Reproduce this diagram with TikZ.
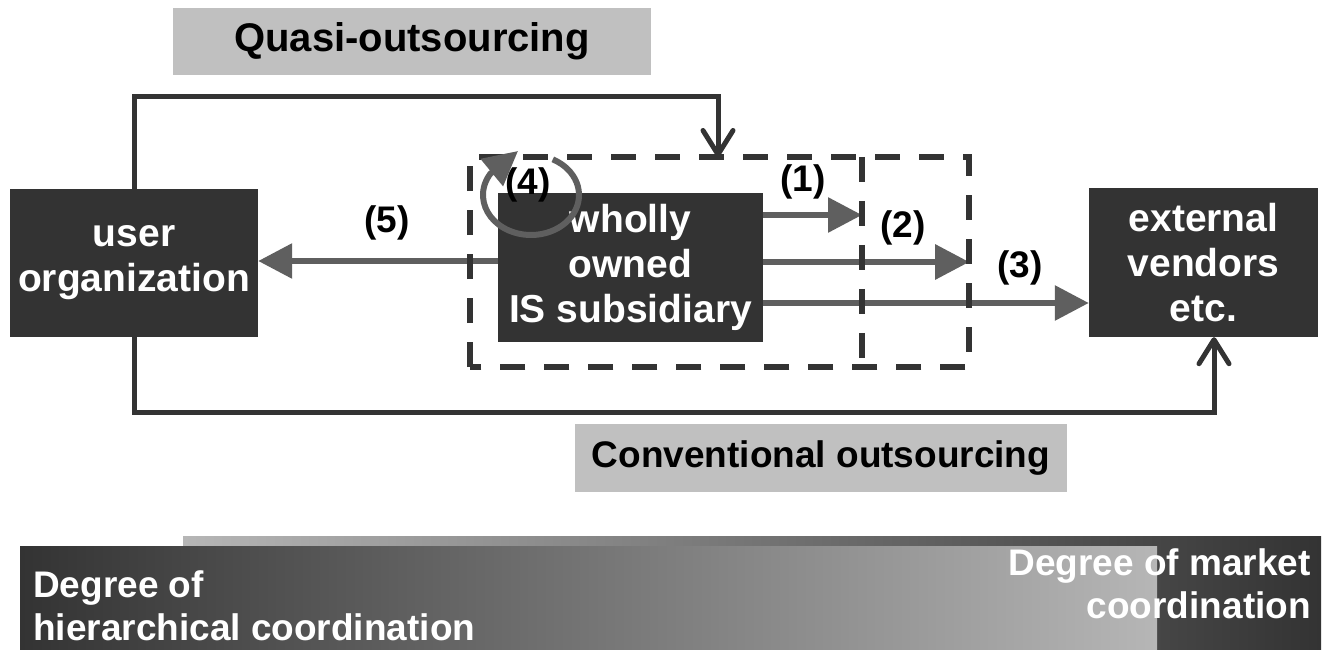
\documentclass[tikz,border=0pt]{standalone}
\usepackage{fontspec}
\setmainfont{Liberation Sans}
\definecolor{BoxColor}{RGB}{51,51,51}
\definecolor{FlowColor}{RGB}{95,95,95}
\definecolor{TagColor}{RGB}{192,192,192}
\definecolor{BarLight}{RGB}{182,182,182}
\definecolor{BarMid}{RGB}{156,156,156}
\usetikzlibrary{arrows.meta}

\begin{document}
\begin{tikzpicture}[x=1pt, y=-1pt,
    darkbox/.style={fill=BoxColor, text=white, inner sep=0pt, align=center, font=\fontsize{39}{45}\selectfont\bfseries},
    tagbox/.style={fill=TagColor, inner sep=0pt},
    numlabel/.style={inner sep=0pt, font=\fontsize{37}{44}\selectfont\bfseries},
    bartext/.style={inner sep=0pt, text=white, font=\fontsize{37}{43}\selectfont\bfseries},
    outline/.style={draw=BoxColor, line width=5pt, -{Straight Barb[round, length=24pt, width=30pt]}},
    flow/.style={draw=FlowColor, line width=6pt, -{Triangle[length=34pt, width=34pt]}},
    dashframe/.style={draw=BoxColor, line width=6pt, dash pattern=on 25pt off 19pt}]
  \useasboundingbox (0,0) rectangle (1327,650);

  % coordination bars
  \shade[left color=BarLight, middle color=BarMid, right color=BoxColor] (183,536) rectangle (1321,650);
  \shade[left color=BoxColor, middle color=BarMid, right color=BarLight] (20,546) rectangle (1157,650);
  \node[bartext, anchor=base west, align=left] (hier) at (33,640) {Degree of\\hierarchical coordination};
  \node[bartext, anchor=base east, align=right] (market) at (1311,618) {Degree of market\\coordination};

  % tags
  \node[tagbox, minimum width=478pt, minimum height=67pt, font=\fontsize{40}{45}\selectfont\bfseries] (quasi) at (412,41.5) {Quasi-outsourcing};
  \node[tagbox, minimum width=492pt, minimum height=68pt, font=\fontsize{37}{45}\selectfont\bfseries] (conv) at (821,458) {Conventional outsourcing};

  % boxes
  \node[darkbox, minimum width=248pt, minimum height=148pt] (user) at (134,263) {user\\organization};
  \node[darkbox, minimum width=265pt, minimum height=149pt] (sub) at (630.5,267.5) {wholly\\owned\\IS subsidiary};
  \node[darkbox, minimum width=229pt, minimum height=149pt] (vendor) at (1203.5,262.5) {external\\vendors\\etc.};

  % outsourcing lines
  \coordinate (quasiend) at (718,157);
  \draw[outline] (user.north) -- ++(0,-92) -| (quasiend);
  \draw[outline] (user.south) -- ++(0,75) -| ([xshift=10.5pt]vendor.south);

  % flows
  \coordinate (split) at (862,262);
  \node[minimum width=499pt, minimum height=210pt, inner sep=0pt] (group) at (719.5,262) {};
  \draw[flow] (sub.west |- 0,261) -- (user.east |- 0,261);
  \draw[flow] (sub.east |- 0,215) -- (split |- 0,215);
  \draw[flow] (sub.east |- 0,262) -- (group.east |- 0,262);
  \draw[flow] (sub.east |- 0,303) -- (vendor.west |- 0,303);

  % dashed frame
  \draw[dashframe] (group.south west) rectangle (group.north east);
  \draw[dashframe] (split |- group.north) -- (split |- group.south);

  % loop (4)
  \coordinate (loopc) at (531,195);
  \coordinate (looptip) at (518,151);
  \draw[flow] (loopc) ++(-63:48 and 40)
    arc[start angle=-63, end angle=212, x radius=48, y radius=40] -- (looptip);

  \node[numlabel] (n1) at (803,182) {(1)};
  \node[numlabel] (n2) at (903,228) {(2)};
  \node[numlabel] (n3) at (1020,268) {(3)};
  \node[numlabel] (n4) at (528,185) {(4)};
  \node[numlabel] (n5) at (387,223) {(5)};
\end{tikzpicture}
\end{document}
